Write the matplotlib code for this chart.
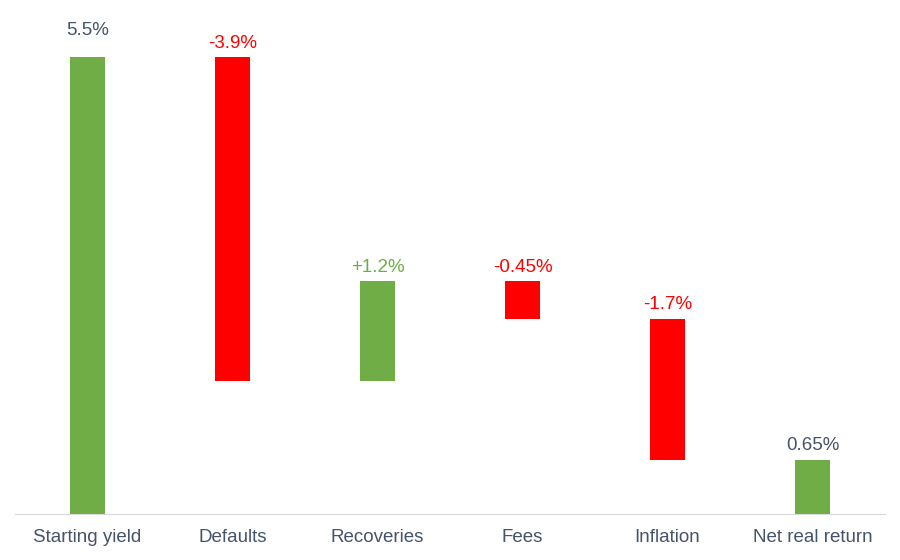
import numpy as np
import matplotlib
matplotlib.use("Agg")
import matplotlib.pyplot as plt

plt.rcParams["font.family"] = ["Liberation Sans", "DejaVu Sans"]

CATEGORIES = ["Starting yield", "Defaults", "Recoveries", "Fees", "Inflation", "Net real return"]
CHANGES = [5.5, -3.9, 1.2, -0.45, -1.7, 0.65]
LABELS = ["5.5%", "-3.9%", "+1.2%", "-0.45%", "-1.7%", "0.65%"]
IS_TOTAL = [True, False, False, False, False, True]

GREEN = "#70AD47"
RED = "#FF0000"
TEXT = "#44546A"

# waterfall bottoms / heights
bottoms, heights = [], []
running = 0.0
for v, tot in zip(CHANGES, IS_TOTAL):
    if tot:
        bottoms.append(0.0)
        heights.append(v)
        running = v
    else:
        new = running + v
        bottoms.append(min(running, new))
        heights.append(abs(v))
        running = new

colors = [GREEN if v > 0 else RED for v in CHANGES]
label_colors = []
for v, tot in zip(CHANGES, IS_TOTAL):
    if tot:
        label_colors.append(TEXT)
    else:
        label_colors.append(GREEN if v > 0 else RED)

fig = plt.figure(figsize=(9, 5.6), dpi=100)
ax = fig.add_axes([0.0167, 0.0821, 0.9666, 0.89])

x = np.arange(len(CATEGORIES))
ax.bar(x, heights, bottom=bottoms, width=0.24, color=colors, linewidth=0)

for i, (xi, b, h, lab, c) in enumerate(zip(x, bottoms, heights, LABELS, label_colors)):
    off = 13 if i == 0 else 4
    ax.annotate(lab, (xi, b + h), xytext=(0, off), textcoords="offset points",
                ha="center", va="bottom", fontsize=13.5, color=c)

ax.set_xlim(-0.5, 5.5)
ax.set_ylim(0, 6)
ax.set_xticks(x)
ax.set_xticklabels(CATEGORIES, fontsize=13.5, color=TEXT)
ax.tick_params(axis="x", length=0, pad=11)
ax.set_yticks([])
for s in ["top", "right", "left"]:
    ax.spines[s].set_visible(False)
ax.spines["bottom"].set_color("#D9D9D9")
ax.spines["bottom"].set_linewidth(0.8)
ax.patch.set_alpha(0)

fig.savefig("out.png", dpi=100, facecolor="white")
